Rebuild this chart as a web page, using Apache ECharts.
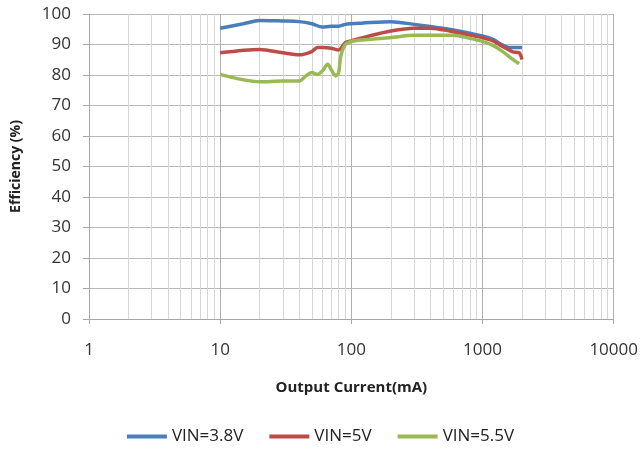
<!DOCTYPE html>
<html>
<head>
<meta charset="utf-8">
<script src="https://cdn.jsdelivr.net/npm/echarts@6/dist/echarts.min.js"></script>
<style>
  html, body { margin: 0; padding: 0; background: #fff; }
  #main { width: 641px; height: 450px; }
</style>
</head>
<body>
<div id="main"></div>
<script>
// output current (mA) and efficiency (%)
var current38 = [10, 15, 20, 30, 40, 50, 60, 70, 80, 90, 100, 120, 200, 300, 400, 500, 600, 800, 1000, 1200, 1400, 1600, 2000];
var eff38 = [95.3, 96.8, 97.9, 97.7, 97.5, 96.8, 95.7, 96.0, 96.0, 96.6, 96.8, 97.0, 97.5, 96.6, 95.9, 95.3, 94.8, 93.7, 92.8, 91.7, 90.0, 89.0, 89.0];

var current5 = [10, 20, 30, 40, 50, 55, 60, 70, 80, 90, 100, 137, 200, 300, 400, 500, 600, 800, 1000, 1200, 1400, 1700, 1900, 2000];
var eff5 = [87.3, 88.4, 87.3, 86.6, 87.7, 89.0, 89.0, 88.8, 88.2, 90.6, 91.2, 92.8, 94.4, 95.3, 95.3, 94.8, 94.2, 93.1, 92.2, 91.2, 89.5, 87.6, 87.3, 85.1];

var current55 = [10, 20, 30, 40, 45, 50, 55, 60, 66, 70, 76, 80, 83, 90, 100, 120, 200, 300, 400, 600, 800, 1000, 1200, 1400, 1700, 1900];
var eff55 = [80.2, 77.8, 78.0, 78.0, 79.7, 80.8, 80.2, 81.3, 83.5, 81.9, 79.7, 80.8, 86.2, 90.0, 91.0, 91.5, 92.3, 93.0, 93.0, 93.0, 92.0, 91.0, 89.7, 87.9, 85.1, 83.7];

var seriesNames = ['VIN=3.8V', 'VIN=5V', 'VIN=5.5V'];
var seriesColors = ['#4a7ebb', '#be4b48', '#98b954'];

// minor log gridlines 2..9 of each decade
var minorGrid = [];
[1, 10, 100, 1000].forEach(function(d) {
	for (var k = 2; k <= 9; k++) minorGrid.push(d * k);
});

function pairs(xs, ys) {
	var out = [];
	for (var i = 0; i < xs.length; i++) out.push([xs[i], ys[i]]);
	return out;
}

var font = '"Open Sans", "DejaVu Sans", sans-serif';
var myChart = echarts.init(document.getElementById('main'));

var option = {
	animation: false,
	textStyle: { fontFamily: font },
	grid: { left: 89, right: 27, top: 14, bottom: 131 },
	legend: {
		bottom: 0,
		left: 'center',
		itemGap: 26,
		itemWidth: 40,
		itemHeight: 4,
		icon: 'rect',
		textStyle: { fontSize: 17, color: '#222', fontFamily: font },
		data: seriesNames
	},
	xAxis: {
		type: 'log',
		logBase: 10,
		min: 1,
		max: 10000,
		name: 'Output Current(mA)',
		nameLocation: 'middle',
		nameGap: 61,
		nameTextStyle: { fontSize: 15, fontWeight: 'bold', color: '#222' },
		axisLine: { show: true, lineStyle: { color: '#a6a6a6' } },
		axisTick: { show: true, length: 5, lineStyle: { color: '#a6a6a6' } },
		axisLabel: {
			fontSize: 17, color: '#333', margin: 23,
			formatter: function(v) { return String(v); }
		},
		splitLine: { show: true, lineStyle: { color: '#b0b0b0', width: 1 } }
	},
	yAxis: {
		type: 'value',
		min: 0,
		max: 100,
		interval: 10,
		name: 'Efficiency (%)',
		nameLocation: 'middle',
		nameGap: 66,
		nameTextStyle: { fontSize: 14, fontWeight: 'bold', color: '#222' },
		axisLine: { show: true, lineStyle: { color: '#a6a6a6' } },
		axisTick: { show: true, length: 6, lineStyle: { color: '#a6a6a6' } },
		axisLabel: { fontSize: 17, color: '#333', margin: 18 },
		splitLine: { show: true, lineStyle: { color: '#b8b8b8', width: 1 } }
	},
	series: [{
		name: seriesNames[0],
		type: 'line',
		smooth: 0.3,
		symbol: 'none',
		z: 3,
		lineStyle: { width: 3.5, color: seriesColors[0] },
		itemStyle: { color: seriesColors[0] },
		data: pairs(current38, eff38),
		markLine: {
			silent: true,
			z: 1,
			symbol: 'none',
			label: { show: false },
			lineStyle: { color: '#d6d6d6', width: 1, type: 'solid' },
			data: minorGrid.map(function(v) { return { xAxis: v }; })
		}
	}, {
		name: seriesNames[1],
		type: 'line',
		smooth: 0.3,
		symbol: 'none',
		z: 3,
		lineStyle: { width: 3.5, color: seriesColors[1] },
		itemStyle: { color: seriesColors[1] },
		data: pairs(current5, eff5)
	}, {
		name: seriesNames[2],
		type: 'line',
		smooth: 0.3,
		symbol: 'none',
		z: 3,
		lineStyle: { width: 3.5, color: seriesColors[2] },
		itemStyle: { color: seriesColors[2] },
		data: pairs(current55, eff55)
	}]
};
myChart.setOption(option);
</script>
</body>
</html>
